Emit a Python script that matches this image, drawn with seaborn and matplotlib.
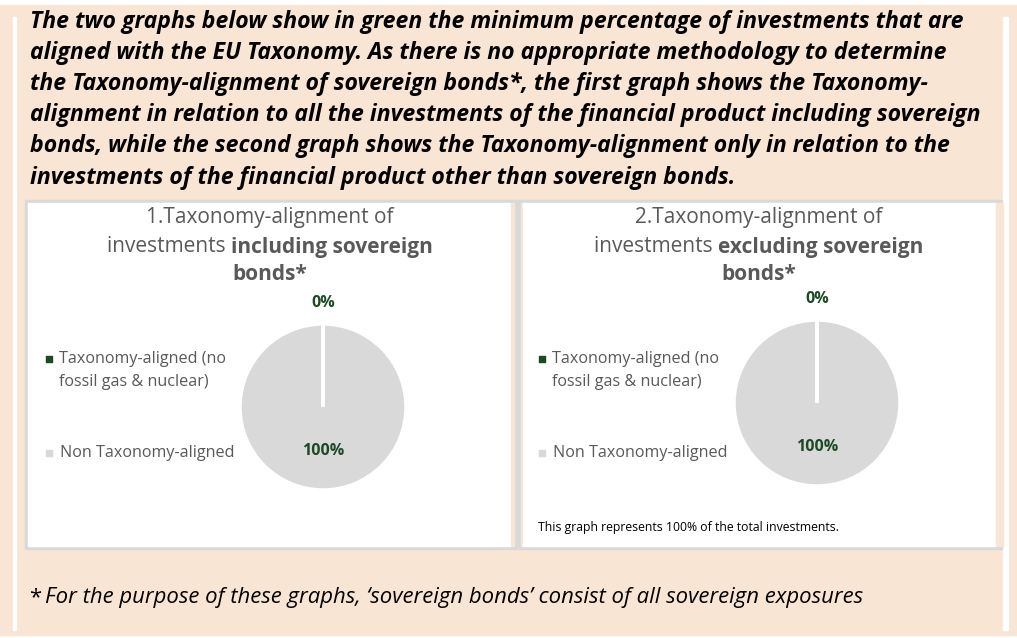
"""
EU Taxonomy alignment pie charts (including / excluding sovereign bonds)
"""

import numpy as np
import matplotlib

matplotlib.use("Agg")
import matplotlib.pyplot as plt
import seaborn as sns
from matplotlib.patches import Rectangle

# ---- data -------------------------------------------------------------
categories = ["Taxonomy-aligned (no\nfossil gas & nuclear)", "Non Taxonomy-aligned"]
values_including = [0, 100]
values_excluding = [0, 100]
chart_numbers = ["1.", "2."]
chart_keywords = ["including sovereign", "excluding sovereign"]

intro_lines = [
    "The two graphs below show in green the minimum percentage of investments that are",
    "aligned with the EU Taxonomy. As there is no appropriate methodology to determine",
    "the Taxonomy-alignment of sovereign bonds*, the first graph shows the Taxonomy-",
    "alignment in relation to all the investments of the financial product including sovereign",
    "bonds, while the second graph shows the Taxonomy-alignment only in relation to the",
    "investments of the financial product other than sovereign bonds.",
]
footnote = "For the purpose of these graphs, \u2018sovereign bonds\u2019 consist of all sovereign exposures"
note_right = "This graph represents 100% of the total investments."

# ---- style ------------------------------------------------------------
sns.set_theme(style="white")
plt.rcParams["font.family"] = ["Open Sans", "DejaVu Sans"]

PEACH = "#f9e5d3"
FRAME = "#d9d9d9"
PIE_GREY = "#d9d9d9"
GREEN = "#1b4a1f"
LABEL_GREEN = "#1d4a24"
TITLE_GREY = "#595959"

W, H = 1017, 638
fig = plt.figure(figsize=(W / 100, H / 100), dpi=100)
bg = fig.add_axes([0, 0, 1, 1])
bg.set_xlim(0, W)
bg.set_ylim(H, 0)
bg.axis("off")
renderer = fig.canvas.get_renderer()


def text_width(t):
    return t.get_window_extent(renderer=renderer).width


def fitted_text(x, y, s, target_px, size, **kw):
    """Place text and shrink/grow its font so the width matches target_px"""
    t = bg.text(x, y, s, fontsize=size, **kw)
    t.set_fontsize(size * target_px / text_width(t))
    return t


def mixed_line(xc, y, parts, size, color):
    """Center a line built from (text, weight) parts around xc"""
    items = [bg.text(0, y, s, fontsize=size, fontweight=w, color=color,
                     ha="left", va="center") for s, w in parts]
    widths = [text_width(t) for t in items]
    x = xc - sum(widths) / 2
    for t, w in zip(items, widths):
        t.set_x(x)
        x += w


# ---- background boxes ---------------------------------------------------
bg.add_patch(Rectangle((0, 5), W, 630, color=PEACH, zorder=0))
bg.add_patch(Rectangle((13, 17), 3, 613, color="white", zorder=1))
bg.add_patch(Rectangle((1003, 17), 5, 613, color="white", zorder=1))
bg.add_patch(Rectangle((25, 200), 977, 349, color=FRAME, zorder=1))
bg.add_patch(Rectangle((28, 203), 483, 343, color="white", zorder=2))
bg.add_patch(Rectangle((511, 203), 3, 343, color=PEACH, zorder=2))
bg.add_patch(Rectangle((521, 203), 2, 343, color=PEACH, zorder=2))
bg.add_patch(Rectangle((523, 203), 473, 343, color="white", zorder=2))
bg.add_patch(Rectangle((996, 203), 7, 343, color=PEACH, zorder=2))

# ---- intro text ---------------------------------------------------------
intro_size = None
for i, line in enumerate(intro_lines):
    if intro_size is None:
        t = fitted_text(30, 22, line, 938, 13.5, fontweight="bold",
                        fontstyle="italic", va="center", ha="left", color="black")
        intro_size = t.get_fontsize()
    else:
        bg.text(30, 22 + 31.1 * i, line, fontsize=intro_size, fontweight="bold",
                fontstyle="italic", va="center", ha="left", color="black")

# ---- footnote -----------------------------------------------------------
foot = fitted_text(45, 598, footnote, 816, 12, fontstyle="italic", va="center",
                   ha="left", color="black")
bg.text(29, 598, "*", fontsize=foot.get_fontsize(), va="center", ha="left",
        color="black")

# ---- the two charts -----------------------------------------------------
panels = [
    dict(title_x=270, pie_cx=323, pie_cy=407, leg_x=49, values=values_including),
    dict(title_x=759, pie_cx=817, pie_cy=403, leg_x=542, values=values_excluding),
]
radius = 83
lim = 1.3

probe = bg.text(0, -100, "1.Taxonomy-alignment of", fontsize=14)
title_size = 14 * 250 / text_width(probe)
probe.remove()
probe = bg.text(0, -100, categories[0].split("\n")[0], fontsize=12)
legend_size = 12 * 166 / text_width(probe)
probe.remove()

for k, p in enumerate(panels):
    # title
    bg.text(p["title_x"], 218, chart_numbers[k] + "Taxonomy-alignment of",
            fontsize=title_size, color=TITLE_GREY, ha="center", va="center")
    mixed_line(p["title_x"], 247,
               [("investments ", "normal"), (chart_keywords[k], "bold")],
               title_size, TITLE_GREY)
    bg.text(p["title_x"], 275, "bonds*", fontsize=title_size, fontweight="bold",
            color=TITLE_GREY, ha="center", va="center")

    # legend
    lx = p["leg_x"]
    bg.scatter([lx], [359], marker="s", s=14, color=GREEN, zorder=3)
    bg.text(lx + 10, 370.5, categories[0], fontsize=legend_size, color=TITLE_GREY,
            ha="left", va="center", linespacing=1.55)
    bg.scatter([lx], [453], marker="s", s=14, color=PIE_GREY, zorder=3)
    bg.text(lx + 11, 453, categories[1], fontsize=legend_size, color=TITLE_GREY,
            ha="left", va="center")

    # pie
    cx, cy = p["pie_cx"], p["pie_cy"]
    ax = fig.add_axes([(cx - lim * radius) / W, 1 - (cy + lim * radius) / H,
                       2 * lim * radius / W, 2 * lim * radius / H])
    wedges, _ = ax.pie(p["values"], colors=[GREEN, PIE_GREY], startangle=90,
                       counterclock=False,
                       wedgeprops=dict(edgecolor="white", linewidth=2.5))
    ax.set_xlim(-lim, lim)
    ax.set_ylim(-lim, lim)
    ax.set_aspect("equal")
    ax.axis("off")
    total = sum(p["values"])
    for wdg, v in zip(wedges, p["values"]):
        # white separator along each wedge boundary
        edge = np.deg2rad(wdg.theta2)
        ax.plot([0, np.cos(edge)], [0, np.sin(edge)], color="white", lw=2.8,
                solid_capstyle="butt", zorder=3)
        mid = np.deg2rad((wdg.theta1 + wdg.theta2) / 2)
        dist = 1.25 if v == 0 else 0.53
        ax.text(dist * np.cos(mid), dist * np.sin(mid), f"{v / total:.0%}",
                fontsize=11.5, fontweight="bold", color=LABEL_GREEN,
                ha="center", va="center")

bg.text(538, 527, note_right, fontsize=8.8, color="black", ha="left", va="center")

fig.savefig("out.png", dpi=100)
plt.close(fig)
